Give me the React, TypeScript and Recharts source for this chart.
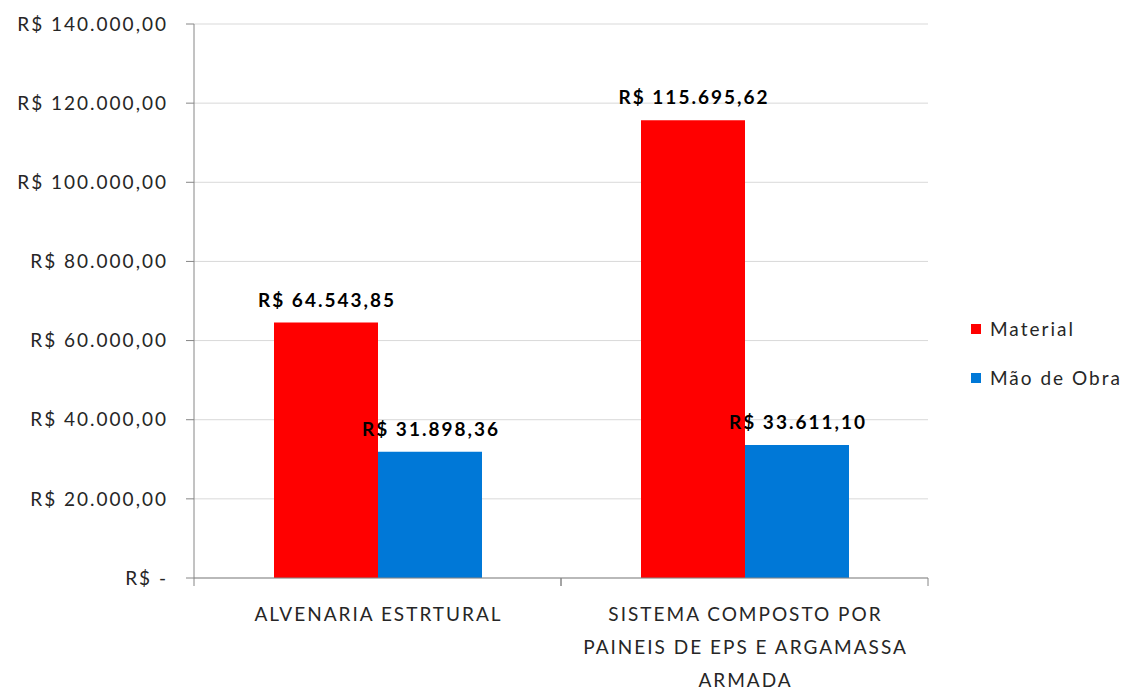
import { BarChart, Bar, XAxis, YAxis, CartesianGrid, Legend, LabelList } from 'recharts';

const categories = ['ALVENARIA ESTRTURAL', 'SISTEMA COMPOSTO POR PAINEIS DE EPS E ARGAMASSA ARMADA'];
const material = [64543.85, 115695.62];
const maoDeObra = [31898.36, 33611.1];
const yTicks = [0, 20000, 40000, 60000, 80000, 100000, 120000, 140000];
const seriesNames = ['Material', 'Mão de Obra'];
const seriesColors = ['#FF0000', '#0078D7'];

const data = categories.map((name, i) => ({ name, material: material[i], maoDeObra: maoDeObra[i] }));

const FONT = 'Lato, "Open Sans", sans-serif';
const SPACING = 2;
const CHART_W = 1124;
const CHART_H = 680;
const LEGEND_W = 170;
const MARGIN = { top: 16, right: 34, left: 0, bottom: 0 };
const YAXIS_W = 186;
const plotW = CHART_W - MARGIN.left - MARGIN.right - LEGEND_W - YAXIS_W;
const halfBand = plotW / categories.length / 2;

function formatBRL(v: number) {
  if (v === 0) return 'R$ -';
  const [int, dec] = v.toFixed(2).split('.');
  return `R$ ${int.replace(/\B(?=(\d{3})+(?!\d))/g, '.')},${dec}`;
}

// simple word wrap by character count, like the source chart
function wrap(s: string, maxChars = 26) {
  const lines: string[] = [];
  let cur = '';
  s.split(' ').forEach(w => {
    if (cur && (cur + ' ' + w).length > maxChars) {
      lines.push(cur);
      cur = w;
    } else {
      cur = cur ? cur + ' ' + w : w;
    }
  });
  if (cur) lines.push(cur);
  return lines;
}

function CategoryTick(props: any) {
  const { x, y, payload } = props;
  const axisY = y - 8;
  const lines = wrap(String(payload.value));
  return (
    <g>
      <line x1={x - halfBand} x2={x - halfBand} y1={axisY} y2={axisY + 8} stroke="#868686" />
      <line x1={x + halfBand} x2={x + halfBand} y1={axisY} y2={axisY + 8} stroke="#868686" />
      <text
        x={x + SPACING / 2}
        y={axisY + 43}
        textAnchor="middle"
        fontSize={19}
        fontFamily={FONT}
        letterSpacing={SPACING}
        fill="#262626"
      >
        {lines.map((l, i) => (
          <tspan key={i} x={x + SPACING / 2} dy={i === 0 ? 0 : 33}>{l}</tspan>
        ))}
      </text>
    </g>
  );
}

function ValueLabel(props: any) {
  const { x, y, width, value } = props;
  return (
    <text
      x={x + width / 2 + SPACING / 2}
      y={y - 16}
      textAnchor="middle"
      fontSize={19}
      fontWeight="bold"
      fontFamily={FONT}
      letterSpacing={SPACING}
      fill="#000"
    >
      {formatBRL(Number(value))}
    </text>
  );
}

function LegendContent() {
  return (
    <div style={{ fontFamily: FONT, fontSize: 19, color: '#262626', letterSpacing: SPACING }}>
      {seriesNames.map((n, i) => (
        <div key={n} style={{ display: 'flex', alignItems: 'center', height: 49 }}>
          <span style={{ width: 10, height: 10, background: seriesColors[i], marginRight: 9, display: 'inline-block' }} />
          {n}
        </div>
      ))}
    </div>
  );
}

export default function App() {
  return (
    <div style={{ fontFamily: FONT }}>
      <BarChart
        width={CHART_W}
        height={CHART_H}
        data={data}
        margin={MARGIN}
        barCategoryGap={80}
        barGap={0}
      >
        <CartesianGrid vertical={false} stroke="#d9d9d9" />
        <XAxis
          dataKey="name"
          height={110}
          stroke="#868686"
          tickLine={false}
          tickSize={8}
          tickMargin={0}
          interval={0}
          tick={<CategoryTick />}
        />
        <YAxis
          width={YAXIS_W}
          domain={[0, 140000]}
          ticks={yTicks}
          interval={0}
          stroke="#868686"
          tickSize={8}
          tickMargin={18}
          tickFormatter={formatBRL}
          tick={{ fill: '#262626', fontSize: 19, fontFamily: FONT, letterSpacing: SPACING }}
        />
        <Legend
          layout="vertical"
          align="right"
          verticalAlign="middle"
          content={<LegendContent />}
          wrapperStyle={{ left: 963, top: 296, width: LEGEND_W }}
        />
        <Bar dataKey="material" name={seriesNames[0]} fill={seriesColors[0]} isAnimationActive={false}>
          <LabelList dataKey="material" content={<ValueLabel />} />
        </Bar>
        <Bar dataKey="maoDeObra" name={seriesNames[1]} fill={seriesColors[1]} isAnimationActive={false}>
          <LabelList dataKey="maoDeObra" content={<ValueLabel />} />
        </Bar>
      </BarChart>
    </div>
  );
}
